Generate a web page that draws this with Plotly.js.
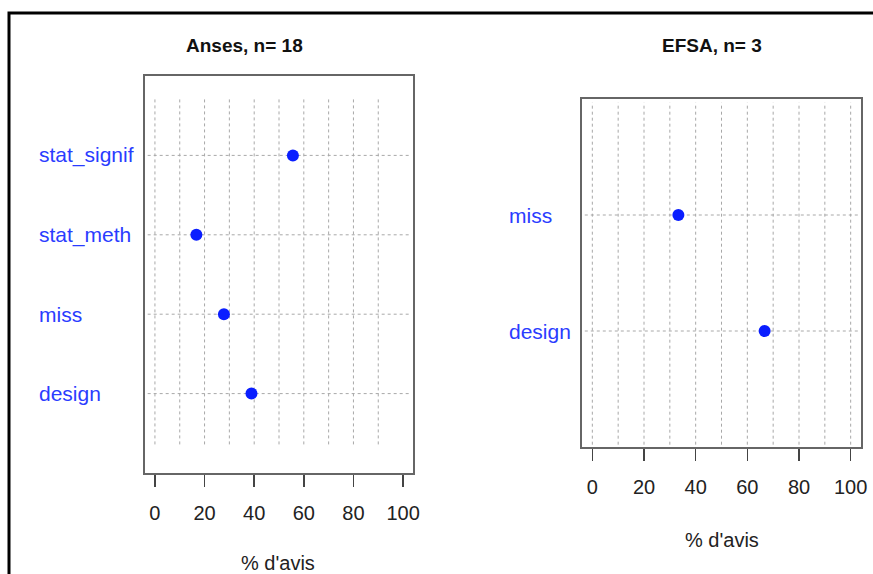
<!DOCTYPE html>
<html>
<head>
<meta charset="utf-8">
<script src="https://cdn.plot.ly/plotly-3.0.1.min.js"></script>
<style>html,body{margin:0;padding:0;background:#fff;}#chart{width:873px;height:574px;}</style>
</head>
<body>
<div id="chart"></div>
<script>
// Data
const ansesTitle = "Anses, n= 18";
const efsaTitle = "EFSA, n= 3";
const ansesCategories = ["design", "miss", "stat_meth", "stat_signif"];
const ansesValues = [38.9, 27.8, 16.7, 55.6];
const efsaCategories = ["design", "miss"];
const efsaValues = [66.7, 33.3];
const xTicks = [0, 20, 40, 60, 80, 100];
const ansesGrid = [0, 10, 20, 30, 40, 50, 60, 70, 80, 90];
const efsaGrid = [0, 10, 20, 30, 40, 50, 60, 70, 80, 90, 100];
const xTitle = "% d'avis";

const W = 873, H = 574;
const px = v => v / W;
const py = v => 1 - v / H;

const blue = "#0a1eff";
const labelBlue = "#2a3cff";
const boxColor = "#666666";
const gridColor = "#a8a8a8";
const font = "Liberation Sans, Arial, Helvetica, sans-serif";

const idx = arr => arr.map((_, i) => i + 1);

const traces = [
  {x: ansesValues, y: idx(ansesCategories), xaxis: "x", yaxis: "y", type: "scatter", mode: "markers",
   marker: {color: blue, size: 12}, hoverinfo: "x+text", text: ansesCategories, showlegend: false},
  {x: efsaValues, y: idx(efsaCategories), xaxis: "x2", yaxis: "y2", type: "scatter", mode: "markers",
   marker: {color: blue, size: 12}, hoverinfo: "x+text", text: efsaCategories, showlegend: false}
];

const shapes = [];
const gridLine = {color: gridColor, width: 1, dash: "dot"};
ansesGrid.forEach(g => shapes.push({type: "line", xref: "x", yref: "y", x0: g, x1: g, y0: 0.36, y1: 4.72, line: gridLine, layer: "below"}));
efsaGrid.forEach(g => shapes.push({type: "line", xref: "x2", yref: "y2", x0: g, x1: g, y0: 0.02, y1: 2.97, line: gridLine, layer: "below"}));
idx(ansesCategories).forEach(i => shapes.push({type: "line", xref: "x domain", yref: "y", x0: 0.01, x1: 0.99, y0: i, y1: i, line: gridLine, layer: "below"}));
idx(efsaCategories).forEach(i => shapes.push({type: "line", xref: "x2 domain", yref: "y2", x0: 0.01, x1: 0.99, y0: i, y1: i, line: gridLine, layer: "below"}));
// outer frame
shapes.push({type: "rect", xref: "paper", yref: "paper", x0: px(9), x1: 1.02, y0: -0.02, y1: py(13), line: {color: "#000", width: 3}, fillcolor: "rgba(0,0,0,0)"});

const annotations = [];
ansesCategories.forEach((c, i) => annotations.push({text: c, xref: "paper", yref: "y", x: px(37), y: i + 1, xanchor: "left", yanchor: "middle", showarrow: false, font: {family: font, size: 21, color: labelBlue}}));
efsaCategories.forEach((c, i) => annotations.push({text: c, xref: "paper", yref: "y2", x: px(507), y: i + 1, xanchor: "left", yanchor: "middle", showarrow: false, font: {family: font, size: 21, color: labelBlue}}));
annotations.push({text: "<b>" + ansesTitle + "</b>", xref: "paper", yref: "paper", x: px(244), y: py(45), xanchor: "center", yanchor: "middle", showarrow: false, font: {family: font, size: 19, color: "#111"}});
annotations.push({text: "<b>" + efsaTitle + "</b>", xref: "paper", yref: "paper", x: px(712), y: py(45), xanchor: "center", yanchor: "middle", showarrow: false, font: {family: font, size: 19, color: "#111"}});
annotations.push({text: xTitle, xref: "paper", yref: "paper", x: px(278), y: py(563), xanchor: "center", yanchor: "middle", showarrow: false, font: {family: font, size: 20, color: "#222"}});
annotations.push({text: xTitle, xref: "paper", yref: "paper", x: px(722), y: py(540), xanchor: "center", yanchor: "middle", showarrow: false, font: {family: font, size: 20, color: "#222"}});

const xBase = {
  range: [-4, 104], tickvals: xTicks, ticktext: xTicks.map(String), ticks: "outside", ticklen: 12,
  tickwidth: 1.5, tickcolor: "#444", showgrid: false, zeroline: false, showline: true, mirror: true,
  linecolor: boxColor, linewidth: 2, tickfont: {family: font, size: 20, color: "#222"}, ticklabelstandoff: 9, fixedrange: true
};
const yBase = {showgrid: false, zeroline: false, showticklabels: false, ticks: "", showline: true, mirror: true, linecolor: boxColor, linewidth: 2, fixedrange: true};

const layout = {
  width: W, height: H, margin: {l: 0, r: 0, t: 0, b: 0}, paper_bgcolor: "#fff", plot_bgcolor: "#fff",
  showlegend: false,
  xaxis: Object.assign({}, xBase, {domain: [px(145), px(413)], anchor: "y"}),
  yaxis: Object.assign({}, yBase, {domain: [py(473), py(76)], range: [0, 5], anchor: "x"}),
  xaxis2: Object.assign({}, xBase, {domain: [px(582), px(861)], anchor: "y2"}),
  yaxis2: Object.assign({}, yBase, {domain: [py(447), py(99)], range: [0, 3], anchor: "x2"}),
  shapes: shapes, annotations: annotations
};

Plotly.newPlot("chart", traces, layout, {displayModeBar: false, staticPlot: true});
</script>
</body>
</html>
